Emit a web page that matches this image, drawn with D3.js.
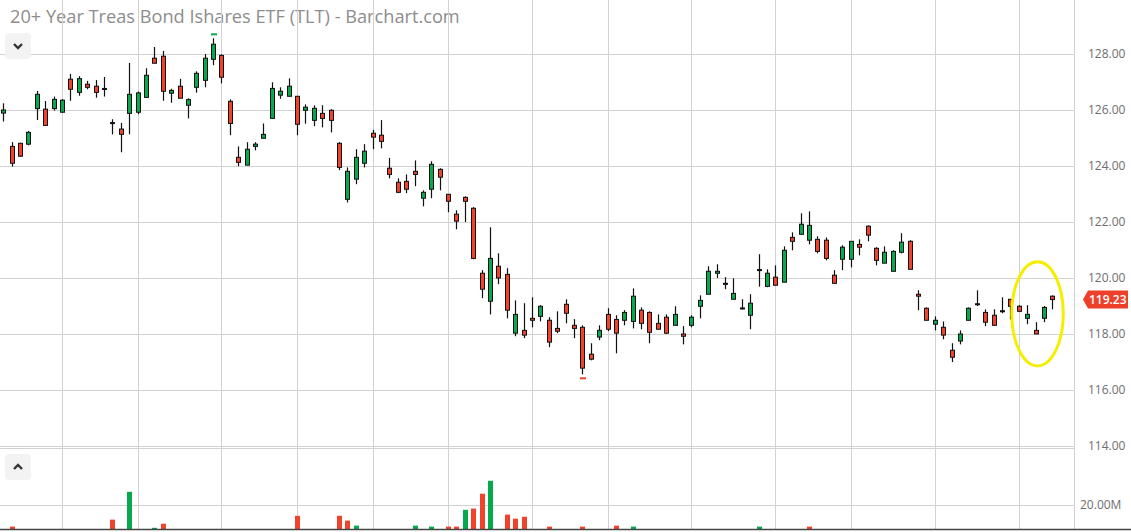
<!DOCTYPE html>
<html>
<head>
<meta charset="utf-8">
<script src="https://cdn.jsdelivr.net/npm/d3@7/dist/d3.min.js"></script>
<style>
html,body{margin:0;padding:0;background:#fff;}
svg{display:block;}
</style>
</head>
<body>
<svg id="chart" width="1131" height="532"></svg>
<script>
// ---- data ----
const title = "20+ Year Treas Bond Ishares ETF (TLT) - Barchart.com";
const opens = [125.89,124.70,124.81,124.78,126.05,126.03,126.05,125.92,127.10,126.63,
126.92,126.85,126.77,125.55,125.32,125.88,125.92,126.45,127.85,127.92,
126.60,126.85,126.17,126.81,127.06,127.81,127.95,126.31,124.31,124.03,
124.70,124.99,125.70,126.53,126.49,126.49,125.99,125.63,125.88,125.99,
124.81,122.81,123.53,124.10,125.17,125.10,123.92,123.42,123.45,123.81,
122.85,123.17,123.88,122.99,122.28,122.88,122.49,120.17,119.17,120.42,
120.13,118.03,118.13,118.56,118.63,118.49,118.20,119.06,118.31,118.24,
117.28,117.89,118.70,118.52,118.49,118.45,118.85,118.77,118.38,118.60,
118.31,118.00,118.31,118.99,119.42,120.17,119.81,119.24,118.93,118.67,
120.30,119.70,120.03,119.85,121.45,121.56,121.35,121.38,121.35,120.10,
120.67,120.67,121.20,121.85,121.06,120.53,120.24,120.92,121.31,119.42,
118.92,118.35,118.24,117.42,117.75,118.49,119.08,118.77,118.67,118.83,
119.24,118.99,118.56,118.13,118.56,119.35];
const highs = [126.24,124.85,124.83,125.25,126.68,126.32,126.48,126.39,127.29,127.21,
127.04,127.07,127.18,125.67,125.54,127.68,126.66,127.49,128.25,128.11,
126.76,127.11,126.42,127.38,128.00,128.56,127.99,126.38,124.70,124.85,
124.85,125.52,126.99,126.81,127.13,126.49,126.20,126.17,126.17,126.03,
124.85,123.95,124.60,124.78,125.29,125.64,124.29,123.56,123.70,124.20,
123.13,124.17,123.92,122.99,122.42,122.92,122.53,120.28,121.81,120.88,
120.35,119.20,119.10,119.31,119.03,118.60,118.81,119.24,118.53,118.31,
117.67,118.31,118.92,118.67,118.85,119.63,118.95,118.81,118.70,118.70,
118.99,118.28,118.67,119.38,120.42,120.49,120.03,119.99,119.24,119.42,
120.85,120.31,120.45,121.13,121.63,122.31,122.38,121.49,121.45,120.28,
121.17,121.31,121.38,121.88,121.10,121.13,120.99,121.60,121.35,119.56,
118.95,118.63,118.45,117.67,118.13,118.95,119.56,118.88,118.88,119.31,
119.24,119.03,119.03,118.42,119.00,119.38];
const lows = [125.59,123.98,124.33,124.74,125.64,125.45,125.98,125.92,126.33,126.51,
126.74,126.44,126.48,125.13,124.49,125.13,125.85,126.45,127.67,126.33,
126.26,126.42,125.70,126.62,126.81,127.60,126.95,125.10,123.99,124.03,
124.56,124.99,125.70,126.40,126.49,125.10,125.51,125.42,125.38,125.20,
123.85,122.70,123.35,123.95,124.60,124.63,123.56,123.03,123.03,123.28,
122.56,122.85,123.13,122.35,121.74,122.00,120.67,119.28,118.70,119.78,
118.56,117.92,117.85,118.24,118.45,117.53,118.03,118.38,117.85,116.56,
117.06,117.78,118.10,117.31,118.31,118.20,118.17,117.67,118.17,118.00,
118.31,117.63,118.24,118.56,119.42,120.00,119.60,119.24,118.88,118.17,
119.69,119.67,119.74,119.85,120.99,121.56,121.20,120.88,120.63,119.81,
120.28,120.38,120.81,121.31,120.45,120.53,120.24,120.88,120.31,118.85,
118.49,118.13,117.81,117.00,117.63,118.49,119.00,118.28,118.31,118.74,
118.52,118.78,118.35,118.00,118.42,118.88];
const closes = [126.00,124.10,124.35,125.20,126.56,125.45,126.38,126.35,126.74,127.12,
126.81,126.63,126.77,125.55,125.13,126.56,126.61,127.24,127.67,126.67,
126.70,126.42,126.37,127.31,127.85,128.35,127.17,125.52,124.13,124.60,
124.78,125.13,126.77,126.67,126.85,125.49,126.10,126.06,125.70,125.63,
123.95,123.81,124.31,124.53,125.03,124.88,123.70,123.06,123.17,123.70,
123.06,124.06,123.60,122.74,122.03,122.74,120.70,119.60,120.70,120.00,
118.85,118.70,117.96,118.49,118.99,117.71,118.10,118.74,118.20,116.78,
117.10,118.13,118.17,118.03,118.77,119.35,118.38,118.06,118.17,118.03,
118.70,117.92,118.60,119.20,120.24,120.24,119.81,119.45,118.93,119.10,
120.30,120.17,119.74,120.99,121.31,121.92,121.88,120.95,120.70,119.81,
121.10,121.31,121.10,121.53,120.63,120.92,120.95,121.28,120.31,119.35,
118.49,118.49,117.96,117.17,118.00,118.92,119.08,118.42,118.31,118.83,
118.99,118.81,118.70,118.00,118.95,119.23];
// volume in millions (pane floor sits above most days)
const volumes = [8.6,11.0,8.2,7.9,9.1,8.8,7.6,7.4,8.9,8.3,
7.8,8.0,7.2,13.9,9.6,25.5,8.4,9.2,10.5,12.2,
7.9,8.1,8.5,8.8,9.4,9.7,9.3,9.8,9.5,8.7,
7.1,7.6,9.4,8.2,7.7,15.5,8.6,7.9,8.3,8.9,
15.5,13.5,11.4,8.8,8.1,7.8,9.3,9.0,8.4,11.4,
8.9,11.0,8.7,11.0,11.0,18.0,18.5,24.7,30.1,9.8,
16.0,14.3,15.1,9.6,9.2,11.0,8.8,9.1,8.6,11.0,
9.7,9.4,8.9,11.4,8.5,11.0,8.8,9.3,8.2,8.6,
8.0,8.9,7.8,8.4,9.6,8.7,7.9,8.1,8.6,9.2,
11.0,8.3,8.5,9.4,9.1,9.7,11.0,8.8,8.4,9.0,
8.7,8.2,7.6,8.4,8.9,7.7,8.3,8.0,9.3,9.5,
9.1,8.2,8.8,9.6,8.4,8.7,7.9,8.1,8.3,7.6,
8.5,7.8,8.2,8.9,8.0,8.4];
const priceTicks = [114,116,118,120,122,124,126,128];
const volumeTicks = [20];
const gridIdx = [7,16,26,35,44,53,63,72,82,92,101,111,121];
const lastPrice = 119.23;
const highlightIdx = [121,125];        // candles circled in yellow
const highlightPrice = [116.86,120.58]; // price span of the circle

// ---- layout ----
const W = 1131, H = 532;
const plotRight = 1074;
const priceTop = 54, priceBottom = 446;
const volTop = 448, volBottom = 529;
const GREEN = "#08a84c", RED = "#f1432b", GRID = "#d2d2d2";

const svg = d3.select("#chart");
const n = closes.length;
const idx = d3.range(n);

const x = d3.scalePoint().domain(idx).range([3.3, 1052.3]);
const y = d3.scaleLinear().domain([114,128]).range([priceBottom, priceTop]);
const yv = d3.scaleLinear().domain([10,20]).range([volBottom, 505]);

// title
svg.append("text").attr("x",10).attr("y",23)
  .attr("font-family","'Open Sans', sans-serif").attr("font-size",18.2)
  .attr("fill","#8d8d8d").text(title);

// vertical grid
svg.append("g").selectAll("line").data(gridIdx).join("line")
  .attr("x1",d=>Math.round(x(d))+0.5).attr("x2",d=>Math.round(x(d))+0.5)
  .attr("y1",0).attr("y2",volBottom)
  .attr("stroke",GRID).attr("stroke-width",1);

// horizontal price grid
svg.append("g").selectAll("line").data(priceTicks).join("line")
  .attr("x1",0).attr("x2",plotRight)
  .attr("y1",d=>Math.round(y(d))+0.5).attr("y2",d=>Math.round(y(d))+0.5)
  .attr("stroke",GRID);
// volume pane top border and grid
svg.append("line").attr("x1",0).attr("x2",plotRight)
  .attr("y1",volTop+0.5).attr("y2",volTop+0.5).attr("stroke",GRID);
svg.append("g").selectAll("line").data(volumeTicks).join("line")
  .attr("x1",0).attr("x2",plotRight)
  .attr("y1",d=>Math.round(yv(d))+0.5).attr("y2",d=>Math.round(yv(d))+0.5)
  .attr("stroke",GRID);
// right axis line
svg.append("line").attr("x1",plotRight+0.5).attr("x2",plotRight+0.5)
  .attr("y1",0).attr("y2",volBottom).attr("stroke",GRID);

// price axis labels
const yAxis = d3.axisRight(y).tickValues(priceTicks).tickFormat(d3.format(".2f")).tickSize(0).tickPadding(14);
const ga = svg.append("g").attr("transform",`translate(${plotRight},0)`).call(yAxis);
ga.select(".domain").remove();
ga.selectAll("text").attr("font-family","'Open Sans', sans-serif").attr("font-size",12).attr("fill","#6e6e6e");
// volume axis labels
const vAxis = d3.axisRight(yv).tickValues(volumeTicks).tickFormat(d=>d3.format(".2f")(d)+"M").tickSize(0).tickPadding(6);
const gv = svg.append("g").attr("transform",`translate(${plotRight},0)`).call(vAxis);
gv.select(".domain").remove();
gv.selectAll("text").attr("font-family","'Open Sans', sans-serif").attr("font-size",12).attr("fill","#6e6e6e");

// volume bars
const volColor = i => (i===0 || closes[i] >= closes[i-1]) ? GREEN : RED;
svg.append("g").selectAll("rect").data(idx.filter(i=>volumes[i]>10)).join("rect")
  .attr("x",i=>Math.round(x(i))-2).attr("width",5)
  .attr("y",i=>yv(volumes[i])).attr("height",i=>volBottom-yv(volumes[i]))
  .attr("fill",volColor);

// candles
const cg = svg.append("g");
cg.selectAll("line").data(idx).join("line")
  .attr("x1",i=>Math.round(x(i))+0.5).attr("x2",i=>Math.round(x(i))+0.5)
  .attr("y1",i=>y(highs[i])).attr("y2",i=>y(lows[i]))
  .attr("stroke","#111").attr("stroke-width",1.2);
cg.selectAll("rect").data(idx).join("rect")
  .attr("x",i=>Math.round(x(i))-1.5).attr("width",4)
  .attr("y",i=>y(Math.max(opens[i],closes[i])))
  .attr("height",i=>Math.max(1,Math.abs(y(opens[i])-y(closes[i]))))
  .attr("fill",i=>closes[i]>opens[i]?GREEN:(closes[i]<opens[i]?RED:"#111"))
  .attr("stroke","#111").attr("stroke-width",1);

// period high / low markers
const hiI = d3.maxIndex(highs), loI = d3.minIndex(lows);
svg.append("rect").attr("x",Math.round(x(hiI))-2).attr("width",6)
  .attr("y",y(highs[hiI])-5).attr("height",2).attr("fill",GREEN);
svg.append("rect").attr("x",Math.round(x(loI))-2).attr("width",6)
  .attr("y",y(lows[loI])+3).attr("height",2).attr("fill",RED);

// yellow highlight ellipse
const ex0 = x(highlightIdx[0]), ex1 = x(highlightIdx[1]);
svg.append("ellipse")
  .attr("cx",(ex0+ex1)/2+2).attr("cy",(y(highlightPrice[0])+y(highlightPrice[1]))/2)
  .attr("rx",(ex1-ex0)/2+9).attr("ry",(y(highlightPrice[0])-y(highlightPrice[1]))/2)
  .attr("fill","none").attr("stroke","#f6ee00").attr("stroke-width",3);

// last price label
const ly = y(lastPrice);
svg.append("path")
  .attr("d",`M${plotRight+9},${ly} L${plotRight+14},${ly-9} L${plotRight+54},${ly-9} L${plotRight+54},${ly+9} L${plotRight+14},${ly+9} Z`)
  .attr("fill","#ee3f2a");
svg.append("text").attr("x",plotRight+15).attr("y",ly+4.3)
  .attr("font-family","'Open Sans', sans-serif").attr("font-size",12).attr("font-weight",600)
  .attr("fill","#fff").text(d3.format(".2f")(lastPrice));

// collapse buttons
function button(by, up){
  svg.append("rect").attr("x",5).attr("y",by).attr("width",26).attr("height",26).attr("rx",4).attr("fill","#f3f3f3");
  const cy = by+13;
  const d = up ? `M14,${cy+2} L18,${cy-2} L22,${cy+2}` : `M14,${cy-2} L18,${cy+2} L22,${cy-2}`;
  svg.append("path").attr("d",d).attr("fill","none").attr("stroke","#333").attr("stroke-width",2.4);
}
button(33,false);
button(454,true);

// bottom border
svg.append("line").attr("x1",0).attr("x2",W).attr("y1",volBottom+0.5).attr("y2",volBottom+0.5)
  .attr("stroke","#444").attr("stroke-width",1.5);
</script>
</body>
</html>
